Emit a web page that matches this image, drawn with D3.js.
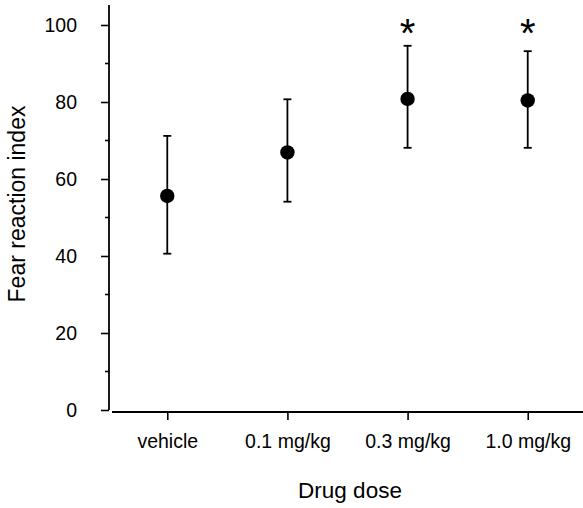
<!DOCTYPE html>
<html>
<head>
<meta charset="utf-8">
<script src="https://cdn.jsdelivr.net/npm/d3@7"></script>
<style>
  html, body { margin: 0; padding: 0; background: #fff; }
  svg { display: block; }
  text { font-family: "Liberation Sans", Arial, Helvetica, sans-serif; fill: #000; }
</style>
</head>
<body>
<svg id="chart" width="583" height="508"></svg>
<script>
const categories = ["vehicle", "0.1 mg/kg", "0.3 mg/kg", "1.0 mg/kg"];
const means      = [55.6, 66.9, 80.8, 80.4];
const upperErr   = [71.2, 80.7, 94.6, 93.2];
const lowerErr   = [40.6, 54.1, 68.1, 68.1];
const significant = [false, false, true, true];
const yMajorTicks = [0, 20, 40, 60, 80, 100];
const yMinorTicks = [10, 30, 50, 70, 90];
const xTitle = "Drug dose";
const yTitle = "Fear reaction index";

const svg = d3.select("#chart");

const x = d3.scalePoint().domain(categories).range([112, 583]).padding(0.46);
const y = d3.scaleLinear().domain([0, 100]).range([410, 25]);

const data = categories.map((c, i) => ({
  c, m: means[i], hi: upperErr[i], lo: lowerErr[i], sig: significant[i]
}));

// Y axis
const yAxisX = 109;
const yAx = svg.append("g").attr("transform", `translate(${yAxisX},0)`);
yAx.call(d3.axisLeft(y).tickValues(yMajorTicks).tickSize(8).tickPadding(24).tickSizeOuter(0));
yAx.select(".domain").remove();
yAx.selectAll(".tick line").attr("stroke", "#000").attr("stroke-width", 1.6);
yAx.selectAll(".tick text").attr("font-size", 19.5).attr("font-family", "Liberation Sans, Arial, sans-serif").attr("fill", "#000");
yAx.append("line").attr("x1", 0).attr("x2", 0).attr("y1", y(105.2)).attr("y2", y(0))
  .attr("stroke", "#000").attr("stroke-width", 1.8);
yAx.selectAll(".minor").data(yMinorTicks).join("line")
  .attr("class", "minor")
  .attr("x1", -4).attr("x2", 0).attr("y1", d => y(d)).attr("y2", d => y(d))
  .attr("stroke", "#000").attr("stroke-width", 1.6);

// X axis
const xAxisY = 412;
const xAx = svg.append("g").attr("transform", `translate(0,${xAxisY})`);
xAx.call(d3.axisBottom(x).tickSize(8).tickPadding(14).tickSizeOuter(0));
xAx.select(".domain").remove();
xAx.append("line").attr("x1", 112).attr("x2", 583).attr("y1", 0).attr("y2", 0)
  .attr("stroke", "#000").attr("stroke-width", 1.8);
xAx.selectAll(".tick line").attr("stroke", "#000").attr("stroke-width", 1.6);
xAx.selectAll(".tick text").attr("font-size", 19.5).attr("font-family", "Liberation Sans, Arial, sans-serif").attr("fill", "#000");

// Error bars
const g = svg.append("g");
g.selectAll(".err").data(data).join("line")
  .attr("class", "err")
  .attr("x1", d => x(d.c)).attr("x2", d => x(d.c))
  .attr("y1", d => y(d.lo)).attr("y2", d => y(d.hi))
  .attr("stroke", "#000").attr("stroke-width", 1.8);
g.selectAll(".capHi").data(data).join("line")
  .attr("class", "capHi")
  .attr("x1", d => x(d.c) - 4).attr("x2", d => x(d.c) + 4)
  .attr("y1", d => y(d.hi)).attr("y2", d => y(d.hi))
  .attr("stroke", "#000").attr("stroke-width", 1.8);
g.selectAll(".capLo").data(data).join("line")
  .attr("class", "capLo")
  .attr("x1", d => x(d.c) - 4).attr("x2", d => x(d.c) + 4)
  .attr("y1", d => y(d.lo)).attr("y2", d => y(d.lo))
  .attr("stroke", "#000").attr("stroke-width", 1.8);
g.selectAll(".pt").data(data).join("circle")
  .attr("class", "pt")
  .attr("cx", d => x(d.c)).attr("cy", d => y(d.m)).attr("r", 7.2)
  .attr("fill", "#000");

// Significance asterisks
const astSize = 40;
g.selectAll(".sig").data(data.filter(d => d.sig)).join("text")
  .attr("class", "sig")
  .attr("x", d => x(d.c)).attr("y", y(100) + astSize * 0.55)
  .attr("text-anchor", "middle")
  .attr("font-size", astSize)
  .text("*");

// Titles
svg.append("text")
  .attr("x", 350).attr("y", 498)
  .attr("text-anchor", "middle").attr("font-size", 22.5)
  .text(xTitle);
svg.append("text")
  .attr("transform", "translate(25,204) rotate(-90)")
  .attr("text-anchor", "middle").attr("font-size", 23)
  .text(yTitle);
</script>
</body>
</html>
